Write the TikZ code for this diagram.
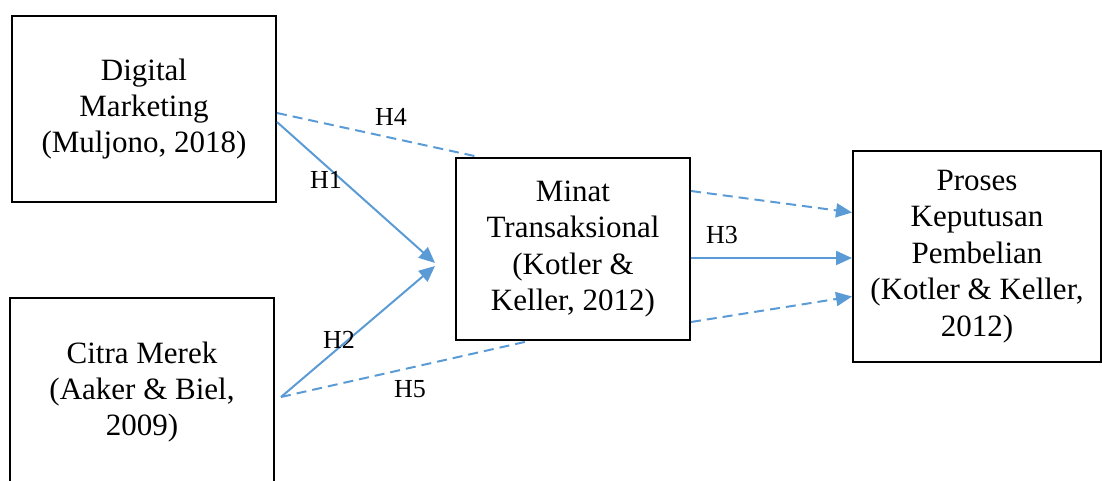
\documentclass[tikz,border=0pt]{standalone}
\usepackage{fontspec}
\setmainfont{Liberation Serif}
\usetikzlibrary{arrows.meta}
\definecolor{linkblue}{HTML}{5B9BD5}
\tikzset{
  boxnode/.style={draw=black, line width=1pt, align=center, inner sep=0pt,
    font=\fontsize{15.5}{18.2}\selectfont},
  hlabel/.style={font=\fontsize{13}{14}\selectfont, inner sep=0pt},
  link/.style={draw=linkblue, line width=1pt},
  dashlink/.style={link, dash pattern=on 5pt off 3pt},
  tip/.style={-{Triangle[length=8pt,width=7pt]}}
}
\begin{document}
\begin{tikzpicture}[x=0.5pt,y=-0.5pt]
\useasboundingbox (0,0) rectangle (1102,481);
\clip (0,0) rectangle (1102,481);
\node[boxnode, minimum width=132pt, minimum height=93pt] (dm) at (144,109)
  {Digital\\Marketing\\(Muljono, 2018)};
\node[boxnode, minimum width=132pt, minimum height=94pt] (cm) at (142,392)
  {Citra Merek\\(Aaker \& Biel,\\2009)};
\node[boxnode, minimum width=117pt, minimum height=91pt] (mt) at (573,249)
  {Minat\\Transaksional\\(Kotler \&\\Keller, 2012)};
\node[boxnode, minimum width=124pt, minimum height=105.5pt] (pk) at (977,256.5)
  {Proses\\Keputusan\\Pembelian\\(Kotler \& Keller,\\2012)};
% endpoints
\coordinate (h4s) at ([yshift=-2pt]dm.east);
\coordinate (h1s) at ([yshift=-6.5pt]dm.east);
\coordinate (h4e) at ([xshift=12pt]mt.north west);
\coordinate (join) at ([xshift=-10pt,yshift=-7pt]mt.west);
\coordinate (join2) at ([xshift=-10pt,yshift=-8.5pt]mt.west);
\coordinate (cms) at ([xshift=3pt,yshift=-2.5pt]cm.east);
\coordinate (h5e) at ([xshift=37pt]mt.south west);
% links into Minat
\draw[dashlink] (h4s) -- (h4e);
\draw[link, tip] (h1s) -- (join);
\draw[link, tip] (cms) -- (join2);
\draw[dashlink] (cms) -- (h5e);
% links into Proses
\draw[dashlink, tip] ([yshift=29pt]mt.east) -- ([yshift=22pt]pk.west);
\draw[link, tip] ([yshift=-4.5pt]mt.east) -- ([yshift=-0.75pt]pk.west);
\draw[dashlink, tip] ([yshift=-36.5pt]mt.east) -- ([yshift=-20pt]pk.west);
% labels
\node[hlabel] (l4) at (391,117) {H4};
\node[hlabel] (l1) at (326,180) {H1};
\node[hlabel] (l2) at (339,340) {H2};
\node[hlabel] (l5) at (410,389) {H5};
\node[hlabel] (l3) at (722,235) {H3};
\end{tikzpicture}
\end{document}
